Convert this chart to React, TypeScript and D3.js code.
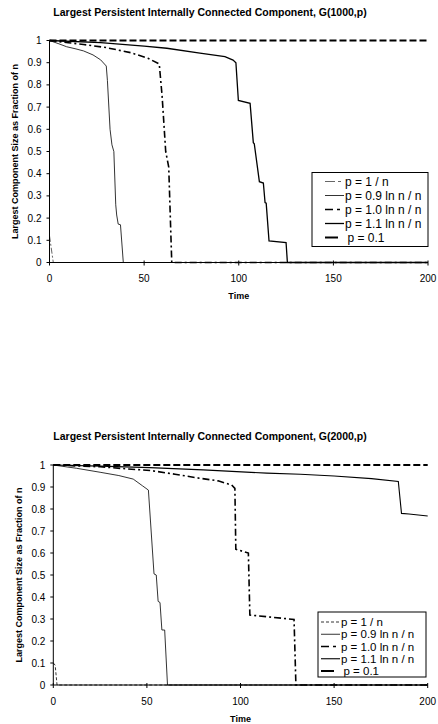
import React from "react";
import * as d3 from "d3";

// ---------- shared axis / legend text ----------
const TIME_TICKS = [0, 50, 100, 150, 200];
const FRACTION_TICKS = [0, 0.1, 0.2, 0.3, 0.4, 0.5, 0.6, 0.7, 0.8, 0.9, 1];
const FRACTION_TICK_LABELS = ["0", "0.1", "0.2", "0.3", "0.4", "0.5", "0.6", "0.7", "0.8", "0.9", "1"];
const SERIES_NAMES = ["p = 1 / n", "p = 0.9 ln n / n", "p = 1.0 ln n / n", "p = 1.1 ln n / n", "p = 0.1"];

// ---------- G(1000,p) ----------
const T1000_INV = [0, 2, 200];
const V1000_INV = [0.12, 0, 0];
const T1000_P09 = [0, 5, 9, 14, 18, 23, 27, 30, 30.6, 32, 33, 34, 35, 35.5, 36.3, 37.5, 39, 200];
const V1000_P09 = [1, 0.985, 0.972, 0.962, 0.953, 0.935, 0.913, 0.885, 0.82, 0.6, 0.53, 0.5, 0.26, 0.214, 0.173, 0.17, 0, 0];
const T1000_P10 = [0, 10, 18, 30, 43, 52, 58, 59.5, 61.4, 63, 64.6, 200];
const V1000_P10 = [1, 0.99, 0.982, 0.968, 0.945, 0.92, 0.894, 0.75, 0.5, 0.43, 0, 0];
const T1000_P11 = [0, 27, 50, 62, 79.5, 92.7, 97, 98.5, 99.8, 106, 107.7, 108.2, 110.9, 113, 113.9, 114.5, 116, 125, 125.7, 200];
const V1000_P11 = [1, 0.99, 0.975, 0.965, 0.943, 0.927, 0.912, 0.9, 0.73, 0.717, 0.54, 0.535, 0.364, 0.358, 0.27, 0.267, 0.097, 0.09, 0, 0];
const T1000_P01 = [0, 200];
const V1000_P01 = [1, 1];

// ---------- G(2000,p) ----------
const T2000_INV = [0, 1, 2, 200];
const V2000_INV = [0.1, 0.09, 0, 0];
const T2000_P09 = [0, 12.5, 25, 35, 42.7, 47.7, 50.8, 53.8, 55, 56, 57, 58, 59.5, 61, 200];
const V2000_P09 = [1, 0.985, 0.967, 0.952, 0.936, 0.905, 0.886, 0.505, 0.5, 0.38, 0.375, 0.25, 0.25, 0, 0];
const T2000_P10 = [0, 25, 40, 52, 65, 78, 88, 95.3, 97, 97.5, 104.2, 105, 128.6, 129.6, 200];
const V2000_P10 = [1, 0.992, 0.982, 0.975, 0.958, 0.94, 0.928, 0.909, 0.894, 0.617, 0.6, 0.318, 0.298, 0, 0];
const T2000_P11 = [0, 25, 51.6, 80, 114, 132, 150, 170, 184.3, 186, 190, 200];
const V2000_P11 = [1, 0.995, 0.988, 0.978, 0.963, 0.958, 0.95, 0.938, 0.925, 0.78, 0.777, 0.768];
const T2000_P01 = [0, 200];
const V2000_P01 = [1, 1];

type Style = { stroke: string; width: number; dash?: string; legendDash?: string };

const STYLES_TOP: Style[] = [
  { stroke: "#666", width: 1, dash: "6,2,2,2", legendDash: "10,3,3,3" },
  { stroke: "#000", width: 0.8 },
  { stroke: "#000", width: 1.6, dash: "7,3,2,3", legendDash: "8,4,3,4" },
  { stroke: "#000", width: 1.3 },
  { stroke: "#000", width: 2, dash: "7,3", legendDash: "13,20" },
];
const STYLES_BOTTOM: Style[] = [
  { stroke: "#000", width: 0.8, dash: "3,2", legendDash: "3,2" },
  { stroke: "#000", width: 0.8 },
  { stroke: "#000", width: 1.6, dash: "7,3,2,3", legendDash: "8,4,3,4" },
  { stroke: "#000", width: 1.1 },
  { stroke: "#000", width: 2, dash: "7,3", legendDash: "13,20" },
];

type Layout = {
  left: number; right: number; top: number; bottom: number;
  titleY: number; yLabelX: number; xTickY: number; timeY: number;
  lg: { x: number; y: number; w: number; h: number; row0: number; dy: number; l0: number; l1: number; tx: number; fs: number };
};

const FONT = "Arial, 'Liberation Sans', Helvetica, sans-serif";

function Chart({ title, layout, times, values, styles }: { title: string; layout: Layout; times: number[][]; values: number[][]; styles: Style[] }) {
  const x = d3.scaleLinear().domain([0, 200]).range([layout.left, layout.right]);
  const y = d3.scaleLinear().domain([0, 1]).range([layout.bottom, layout.top]);
  const line = d3.line<[number, number]>().x((d) => x(d[0])).y((d) => y(d[1]));
  const lg = layout.lg;
  return (
    <g>
      <text x={210} y={layout.titleY} textAnchor="middle" fontFamily={FONT} fontWeight="bold" fontSize={10.5}>
        {title}
      </text>
      {/* series */}
      {times.map((ts, i) => {
        const pts = ts.map((t, j) => [t, values[i][j]] as [number, number]);
        const s = styles[i];
        return (
          <path key={i} d={line(pts) || ""} fill="none" stroke={s.stroke} strokeWidth={s.width} strokeDasharray={s.dash} />
        );
      })}
      {/* axes */}
      <line x1={layout.left} x2={layout.left} y1={layout.top} y2={layout.bottom} stroke="#000" strokeWidth={1} />
      <line x1={layout.left} x2={layout.right} y1={layout.bottom} y2={layout.bottom} stroke="#000" strokeWidth={1} />
      {FRACTION_TICKS.map((v, i) => (
        <g key={"y" + i}>
          <line x1={layout.left - 3} x2={layout.left} y1={y(v)} y2={y(v)} stroke="#000" />
          <text x={layout.left - 8} y={y(v)} dy="0.35em" textAnchor="end" fontFamily={FONT} fontSize={10}>
            {FRACTION_TICK_LABELS[i]}
          </text>
        </g>
      ))}
      {TIME_TICKS.map((t, i) => (
        <g key={"x" + i}>
          <line x1={x(t)} x2={x(t)} y1={layout.bottom - 2} y2={layout.bottom + 3} stroke="#000" />
          <text x={x(t)} y={layout.xTickY} textAnchor="middle" fontFamily={FONT} fontSize={10}>
            {String(t)}
          </text>
        </g>
      ))}
      <text x={(layout.left + layout.right) / 2} y={layout.timeY} textAnchor="middle" fontFamily={FONT} fontWeight="bold" fontSize={9}>
        Time
      </text>
      <text
        transform={`translate(${layout.yLabelX},${(layout.top + layout.bottom) / 2}) rotate(-90)`}
        textAnchor="middle"
        dy="0.35em"
        fontFamily={FONT}
        fontWeight="bold"
        fontSize={9}
      >
        Largest Component Size as Fraction of n
      </text>
      {/* legend */}
      <rect x={lg.x} y={lg.y} width={lg.w} height={lg.h} fill="#fff" stroke="#000" strokeWidth={1} />
      {SERIES_NAMES.map((name, i) => {
        const yy = lg.row0 + i * lg.dy;
        const s = styles[i];
        return (
          <g key={"lg" + i}>
            <line x1={lg.l0} x2={lg.l1} y1={yy} y2={yy} stroke={s.stroke} strokeWidth={s.width} strokeDasharray={s.legendDash} />
            <text x={lg.tx + (i === 4 ? 2.5 : 0)} y={yy} dy="0.35em" fontFamily={FONT} fontSize={lg.fs}>
              {name}
            </text>
          </g>
        );
      })}
    </g>
  );
}

const TOP: Layout = {
  left: 49.5, right: 428, top: 40.5, bottom: 262.5,
  titleY: 15.5, yLabelX: 15, xTickY: 282, timeY: 299,
  lg: { x: 312, y: 172.5, w: 116, h: 74, row0: 181.5, dy: 14, l0: 325, l1: 344, tx: 345, fs: 12 },
};
const BOTTOM: Layout = {
  left: 53.3, right: 427.7, top: 465, bottom: 685,
  titleY: 439.5, yLabelX: 18.5, xTickY: 705, timeY: 721.5,
  lg: { x: 318, y: 612, w: 108, h: 65, row0: 622, dy: 12.25, l0: 321, l1: 340, tx: 341, fs: 11.5 },
};

export default function App() {
  return (
    <svg width={438} height={724} style={{ position: "absolute", left: 0, top: 0, background: "#fff" }}>
      <rect x={0} y={0} width={438} height={724} fill="#fff" />
      <Chart
        title="Largest Persistent Internally Connected Component, G(1000,p)"
        layout={TOP}
        times={[T1000_INV, T1000_P09, T1000_P10, T1000_P11, T1000_P01]}
        values={[V1000_INV, V1000_P09, V1000_P10, V1000_P11, V1000_P01]}
        styles={STYLES_TOP}
      />
      <Chart
        title="Largest Persistent Internally Connected Component, G(2000,p)"
        layout={BOTTOM}
        times={[T2000_INV, T2000_P09, T2000_P10, T2000_P11, T2000_P01]}
        values={[V2000_INV, V2000_P09, V2000_P10, V2000_P11, V2000_P01]}
        styles={STYLES_BOTTOM}
      />
    </svg>
  );
}
